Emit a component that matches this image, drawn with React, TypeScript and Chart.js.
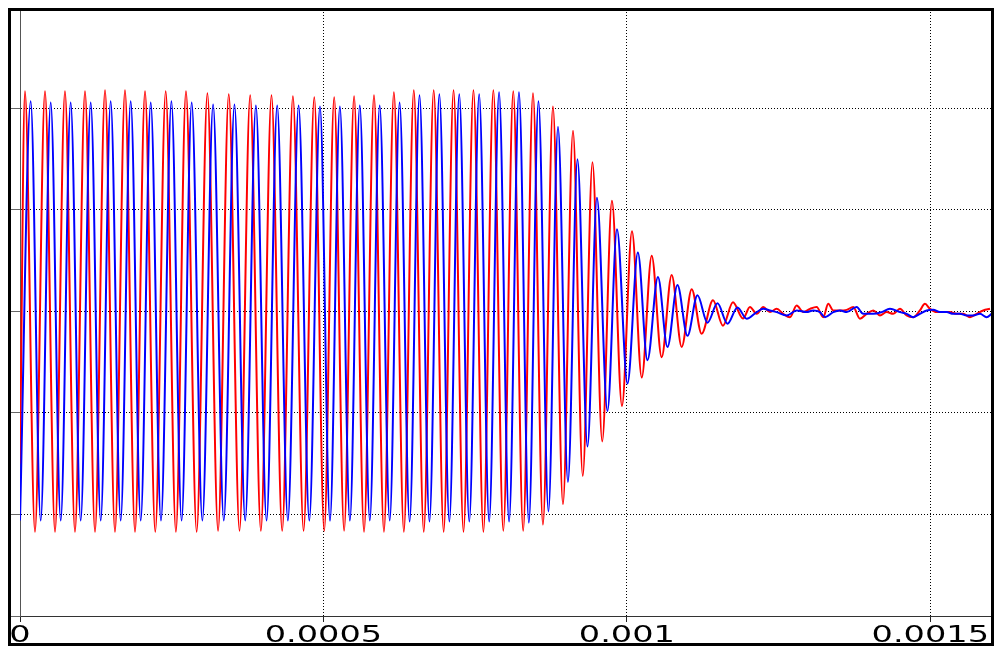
import { useEffect, useRef } from "react";
import { Chart, registerables } from "chart.js";

Chart.register(...registerables);

// ---- axis ticks ----
const xTickValues = [0, 0.0005, 0.001, 0.0015];
const xTickLabels = ["0", "0.0005", "0.001", "0.0015"];
const yTickValues = [-3, -2, -1, 0, 1, 2];

// ---- red trace (times in microseconds) ----
const redSteadyTimesUs = [
  0, 8.2, 24.7, 41.2, 57.7, 74.1, 90.6, 107.1, 123.6, 140.1, 156.5, 173.0, 189.5, 206.0,
  222.9, 240.1, 256.9, 273.5, 291.1, 308.8, 326.4, 344.0, 361.7, 379.3, 396.9, 414.4,
  432.0, 449.7, 467.3, 484.9, 501.3, 517.7, 534.1, 550.5, 566.9, 583.3, 599.7, 616.1,
  632.5, 648.9, 665.3, 681.7, 698.1, 714.4, 730.8, 747.2, 763.6, 780.0, 796.4, 812.8,
];
const redSteadyValues = [
  -1.5, 2.17, -2.17, 2.17, -2.17, 2.17, -2.17, 2.17, -2.17, 2.18, -2.17, 2.18, -2.17, 2.17,
  -2.17, 2.17, -2.17, 2.17, -2.17, 2.15, -2.16, 2.14, -2.16, 2.13, -2.16, 2.13,
  -2.16, 2.12, -2.16, 2.11, -2.16, 2.11, -2.16, 2.12, -2.17, 2.13, -2.17, 2.16,
  -2.17, 2.18, -2.17, 2.18, -2.17, 2.18, -2.17, 2.18, -2.17, 2.18, -2.16, 2.17,
];
const redDecayTimesUs = [
  829.1, 845.3, 861.7, 878.2, 894.7, 911.2, 927.3, 943.3, 959.4, 975.4, 991.9, 1008.4,
  1024.5, 1040.9, 1057.3, 1073.8, 1090.3, 1106.8, 1123.2, 1141.9, 1158.3, 1174.8, 1191.3,
];
const redDecayValues = [
  -2.16, 2.15, -2.1, 2.02, -1.9, 1.78, -1.62, 1.47, -1.28, 1.09, -0.93, 0.79,
  -0.65, 0.55, -0.45, 0.36, -0.35, 0.22, -0.22, 0.11, -0.14, 0.09, -0.07,
];
const redNoiseTimesUs = [
  1202.8, 1213.9, 1224.7, 1235.8, 1246.8, 1257.7, 1268.7, 1279.8, 1290.6, 1301.7, 1312.7,
  1323.6, 1331.8, 1340.1, 1351.1, 1362.2, 1373.0, 1384.1, 1395.1, 1406.0, 1417.0, 1428.1,
  1438.9, 1450.0, 1461.0, 1471.9, 1482.9, 1491.2, 1499.4, 1510.5, 1521.3, 1532.4, 1543.4,
  1554.3, 1565.3, 1576.3, 1587.2, 1598.3,
];
const redNoiseValues = [
  0.044, -0.023, 0.044, -0.006, 0.026, -0.023, -0.056, 0.059, -0.006, 0.026, 0.044,
  -0.056, 0.075, 0.01, 0.01, 0.016, 0.044, -0.072, -0.023, 0.01, -0.039, -0.006,
  -0.023, 0.026, -0.039, -0.056, 0.01, 0.075, 0.026, -0.006, -0.006, -0.006, -0.023,
  -0.023, -0.056, -0.023, 0.01, 0.026,
];

// ---- blue trace ----
const blueSteadyTimesUs = [
  0, 17.6, 34.1, 50.6, 67.1, 83.5, 100.0, 116.5, 133.0, 149.4, 165.9, 182.4, 198.9, 215.4,
  232.3, 249.5, 266.3, 282.9, 300.5, 318.2, 335.8, 353.4, 371.1, 388.7, 406.3, 423.8,
  441.4, 459.1, 476.7, 494.3, 510.8, 527.1, 543.6, 559.9, 576.4, 592.7, 609.2, 625.5,
  642.0, 658.3, 674.7, 691.0, 707.5, 723.8, 740.3, 756.6, 773.1, 789.4, 805.9, 822.2,
];
const blueSteadyValues = [
  -2.06, 2.07, -2.06, 2.06, -2.06, 2.06, -2.06, 2.06, -2.06, 2.07, -2.06, 2.07, -2.06, 2.06,
  -2.06, 2.07, -2.06, 2.06, -2.06, 2.04, -2.06, 2.04, -2.06, 2.03, -2.06, 2.03,
  -2.06, 2.03, -2.06, 2.02, -2.06, 2.02, -2.06, 2.03, -2.06, 2.03, -2.06, 2.06,
  -2.07, 2.13, -2.07, 2.14, -2.07, 2.14, -2.07, 2.14, -2.07, 2.16, -2.07, 2.16,
];
const blueDecayTimesUs = [
  838.5, 854.3, 870.8, 886.5, 902.9, 918.6, 935.1, 950.7, 968.0, 983.7, 1001.0,
  1018.1, 1033.9, 1051.2, 1066.9, 1083.3, 1099.8, 1116.3, 1132.8, 1149.3, 1165.7, 1182.2,
];
const blueDecayValues = [
  -2.08, 2.07, -1.97, 1.82, -1.68, 1.5, -1.33, 1.12, -0.98, 0.81, -0.71,
  0.58, -0.48, 0.34, -0.35, 0.26, -0.24, 0.16, -0.11, 0.08, -0.12, 0.04,
];
const blueNoiseTimesUs = [
  1197.4, 1213.9, 1224.7, 1235.8, 1246.8, 1263.3, 1279.8, 1296.2, 1307.1, 1318.2, 1326.4,
  1340.1, 1351.1, 1362.2, 1378.6, 1389.5, 1406.0, 1419.8, 1433.5, 1450.0, 1461.0, 1471.9,
  1482.9, 1494.0, 1504.8, 1515.9, 1526.9, 1537.8, 1548.8, 1559.9, 1570.8, 1581.8, 1592.8,
  1601.0,
];
const blueNoiseValues = [
  -0.072, -0.006, 0.026, 0.01, -0.006, -0.039, 0.01, -0.006, 0.01, -0.006, -0.056,
  -0.006, 0.01, -0.006, 0.044, -0.023, -0.023, -0.006, 0.026, -0.006, -0.023, -0.056,
  -0.023, 0.01, 0.016, -0.006, -0.006, -0.023, -0.023, -0.039, -0.039, -0.023, -0.056,
  -0.023,
];

function toPoints(timesUs: number[], values: number[]) {
  return timesUs.map((t, i) => ({ x: t * 1e-6, y: values[i] }));
}

const framePlugin = {
  id: "frameAndLabels",
  afterDraw(chart: any) {
    const ctx = chart.ctx as CanvasRenderingContext2D;
    const xs = chart.scales.x;
    ctx.save();
    ctx.fillStyle = "#000";
    ctx.font = '23px "DejaVu Sans"';
    ctx.textAlign = "center";
    ctx.textBaseline = "alphabetic";
    xTickValues.forEach((v, i) => {
      const px = xs.getPixelForValue(v);
      ctx.save();
      ctx.translate(px, 642);
      ctx.scale(1.46, 1);
      ctx.fillText(xTickLabels[i], 0, 0);
      ctx.restore();
    });
    ctx.lineWidth = 3;
    ctx.strokeStyle = "#000";
    ctx.strokeRect(9.5, 9.5, 983, 635);
    ctx.restore();
  },
};

export default function App() {
  const ref = useRef<HTMLCanvasElement | null>(null);
  useEffect(() => {
    if (!ref.current) return;
    const red = [
      ...toPoints(redSteadyTimesUs, redSteadyValues),
      ...toPoints(redDecayTimesUs, redDecayValues),
      ...toPoints(redNoiseTimesUs, redNoiseValues),
    ];
    const blue = [
      ...toPoints(blueSteadyTimesUs, blueSteadyValues),
      ...toPoints(blueDecayTimesUs, blueDecayValues),
      ...toPoints(blueNoiseTimesUs, blueNoiseValues),
    ];
    const chart = new Chart(ref.current, {
      type: "line",
      data: {
        datasets: [
          {
            data: blue,
            borderColor: "#0000ff",
            borderWidth: 2,
            pointRadius: 0,
            cubicInterpolationMode: "monotone",
            fill: false,
          },
          {
            data: red,
            borderColor: "#ff0000",
            borderWidth: 2,
            pointRadius: 0,
            cubicInterpolationMode: "monotone",
            fill: false,
          },
        ],
      },
      options: {
        animation: false,
        responsive: false,
        events: [],
        layout: { padding: { left: 11, right: 4, top: 9, bottom: 24 } },
        plugins: { legend: { display: false }, tooltip: { enabled: false } },
        scales: {
          x: {
            type: "linear",
            min: 0,
            max: 0.0016,
            afterBuildTicks: (s: any) => {
              s.ticks = xTickValues.map((v) => ({ value: v }));
            },
            ticks: { display: false },
            grid: {
              color: (c: any) => (c.tick && c.tick.value === 0 ? "rgba(0,0,0,0)" : "#000"),
              lineWidth: 1,
              tickLength: 6,
              tickColor: "#222",
              tickWidth: 1,
            },
            border: { color: "#333", width: 1, dash: [1, 2] },
          },
          y: {
            type: "linear",
            min: -3,
            max: 2.98,
            afterBuildTicks: (s: any) => {
              s.ticks = yTickValues.map((v) => ({ value: v }));
            },
            ticks: { display: false },
            grid: {
              color: (c: any) => (c.tick && c.tick.value === -3 ? "rgba(0,0,0,0)" : "#000"),
              lineWidth: 1,
              tickLength: 9,
              tickColor: "#666",
              tickWidth: 1,
            },
            border: { color: "#555", width: 1, dash: [1, 2] },
          },
        },
      },
      plugins: [framePlugin],
    });
    return () => chart.destroy();
  }, []);
  return (
    <div style={{ position: "fixed", left: 0, top: 0, width: 995, height: 646, background: "#fff" }}>
      <canvas ref={ref} width={995} height={646} style={{ display: "block" }} />
    </div>
  );
}
